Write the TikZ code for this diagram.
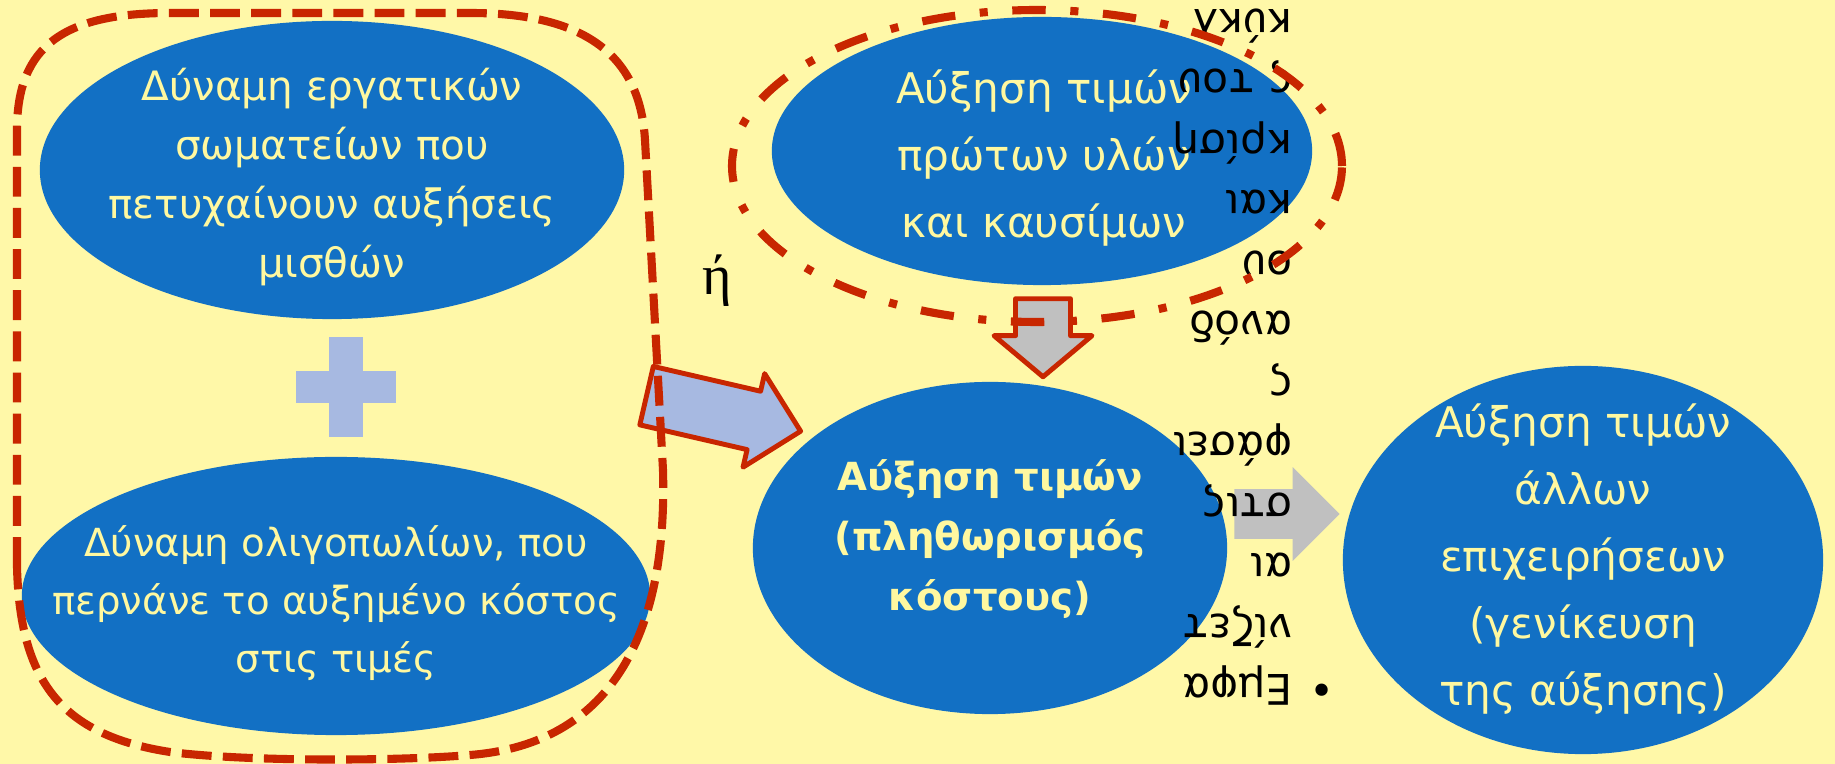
\documentclass[tikz,border=0pt]{standalone}
\usepackage{fontspec}
\setmainfont{DejaVu Sans}
\newfontfamily\serifgr{Liberation Serif}
\usetikzlibrary{positioning}
\usetikzlibrary{shapes.geometric,shapes.arrows}

\definecolor{paper}{RGB}{255,248,168}
\definecolor{blob}{RGB}{18,112,196}
\definecolor{blobtxt}{RGB}{255,248,160}
\definecolor{dashred}{RGB}{200,38,0}
\definecolor{paleblue}{RGB}{167,185,225}
\definecolor{arrgray}{RGB}{192,192,192}

\begin{document}
\begin{tikzpicture}[x=0.01cm, y=0.01cm,
    blob/.style={ellipse, fill=blob, inner sep=0pt},
    blobtext/.style={text=blobtxt, align=center, inner sep=0pt},
    fatarrow/.style={single arrow, inner xsep=0pt, line width=1.4pt, line join=round},
    groupline/.style={draw=dashred, line width=2.3pt, dash pattern=on 8.5pt off 3.2pt},
    ringline/.style={draw=dashred, line width=2.3pt, dash pattern=on 9.5pt off 7pt on 2.3pt off 7pt}]
		\useasboundingbox (0,0) rectangle (1835,-764);
		\clip (0,0) rectangle (1835,-764);
		\fill[paper] (0,0) rectangle (1835,-764);
		\node (unions) [blob, minimum width=5.84cm, minimum height=2.98cm] at (332,-170) {};
		\node (oligo) [blob, minimum width=6.28cm, minimum height=2.78cm] at (336,-596) {};
		\node (raw) [blob, minimum width=5.40cm, minimum height=2.68cm] at (1042,-151) {};
		\node (cost) [blob, minimum width=4.74cm, minimum height=3.32cm] at (990,-548) {};
		\node (spread) [blob, minimum width=4.80cm, minimum height=3.88cm] at (1583,-560) {};
		\node (unionstxt) [blobtext, font=\fontsize{11.5}{16.8}\selectfont] at ([yshift=-0.07cm]unions) {Δύναμη εργατικών\\σωματείων που\\πετυχαίνουν αυξήσεις\\μισθών};
		\node (oligotxt) [blobtext, font=\fontsize{11}{16.5}\selectfont] at ([yshift=-0.07cm]oligo) {Δύναμη ολιγοπωλίων, που\\περνάνε το αυξημένο κόστος\\στις τιμές};
		\node (rawtxt) [blobtext, font=\fontsize{12}{19}\selectfont] at ([xshift=0.02cm, yshift=-0.07cm]raw) {Αύξηση τιμών\\πρώτων υλών\\και καυσίμων};
		\node (costtxt) [blobtext, font=\bfseries\fontsize{11}{17}\selectfont] at ([yshift=0.09cm]cost) {Αύξηση τιμών\\(πληθωρισμός\\κόστους)};
		\node (spreadtxt) [blobtext, font=\fontsize{12}{19}\selectfont] at ([yshift=0.01cm]spread) {Αύξηση τιμών\\άλλων\\επιχειρήσεων\\(γενίκευση\\της αύξησης)};
		\coordinate (plus) at (346,-387);
		\fill[paleblue] ([shift={(-17,-50)}]plus) rectangle ([shift={(17,50)}]plus);
		\fill[paleblue] ([shift={(-50,-16)}]plus) rectangle ([shift={(50,16)}]plus);
		\node (or) [font=\serifgr\fontsize{16}{19}\selectfont] at (717,-281) {ή};
		\node (push) [fatarrow, draw=dashred, fill=paleblue, inner ysep=0.275cm, single arrow head extend=0.18cm, minimum height=1.58cm, rotate=-13, anchor=tip] at (804,-432) {};
		\node (drop) [fatarrow, draw=dashred, fill=arrgray, inner ysep=0.25cm, single arrow head extend=0.215cm, single arrow tip angle=100, minimum height=0.78cm, rotate=-90, anchor=tip] at (1043,-380) {};
		\node (pass) [fatarrow, fill=arrgray, inner ysep=0.225cm, single arrow head extend=0.22cm, minimum height=1.05cm, anchor=tip] at (1343,-514) {};
		\node (note) [rotate=180, anchor=north west, align=left, inner sep=0pt, font=\fontsize{12}{17.2}\selectfont] at (1293,-706) {Εμφα\\νίζετ\\αι\\στις\\φάσει\\ς\\ανόδ\\ου\\και\\κρίση\\ς του\\κύκλ};
		\node (bullet) [rotate=180, inner sep=0pt, font=\fontsize{12}{14}\selectfont] at (1322,-685) {•};
		\draw[ringline] (1037,-166) ellipse [x radius=305, y radius=156];
		\draw[groupline] (17,-567) -- (17,-130) .. controls (17,-45) and (65,-13) .. (170,-13) -- (470,-13) .. controls (585,-13) and (640,-55) .. (645,-140) -- (663,-470) .. controls (668,-650) and (600,-745) .. (470,-755) .. controls (400,-761) and (250,-762) .. (170,-752) .. controls (60,-735) and (20,-680) .. (17,-567) -- cycle;
\end{tikzpicture}
\end{document}
